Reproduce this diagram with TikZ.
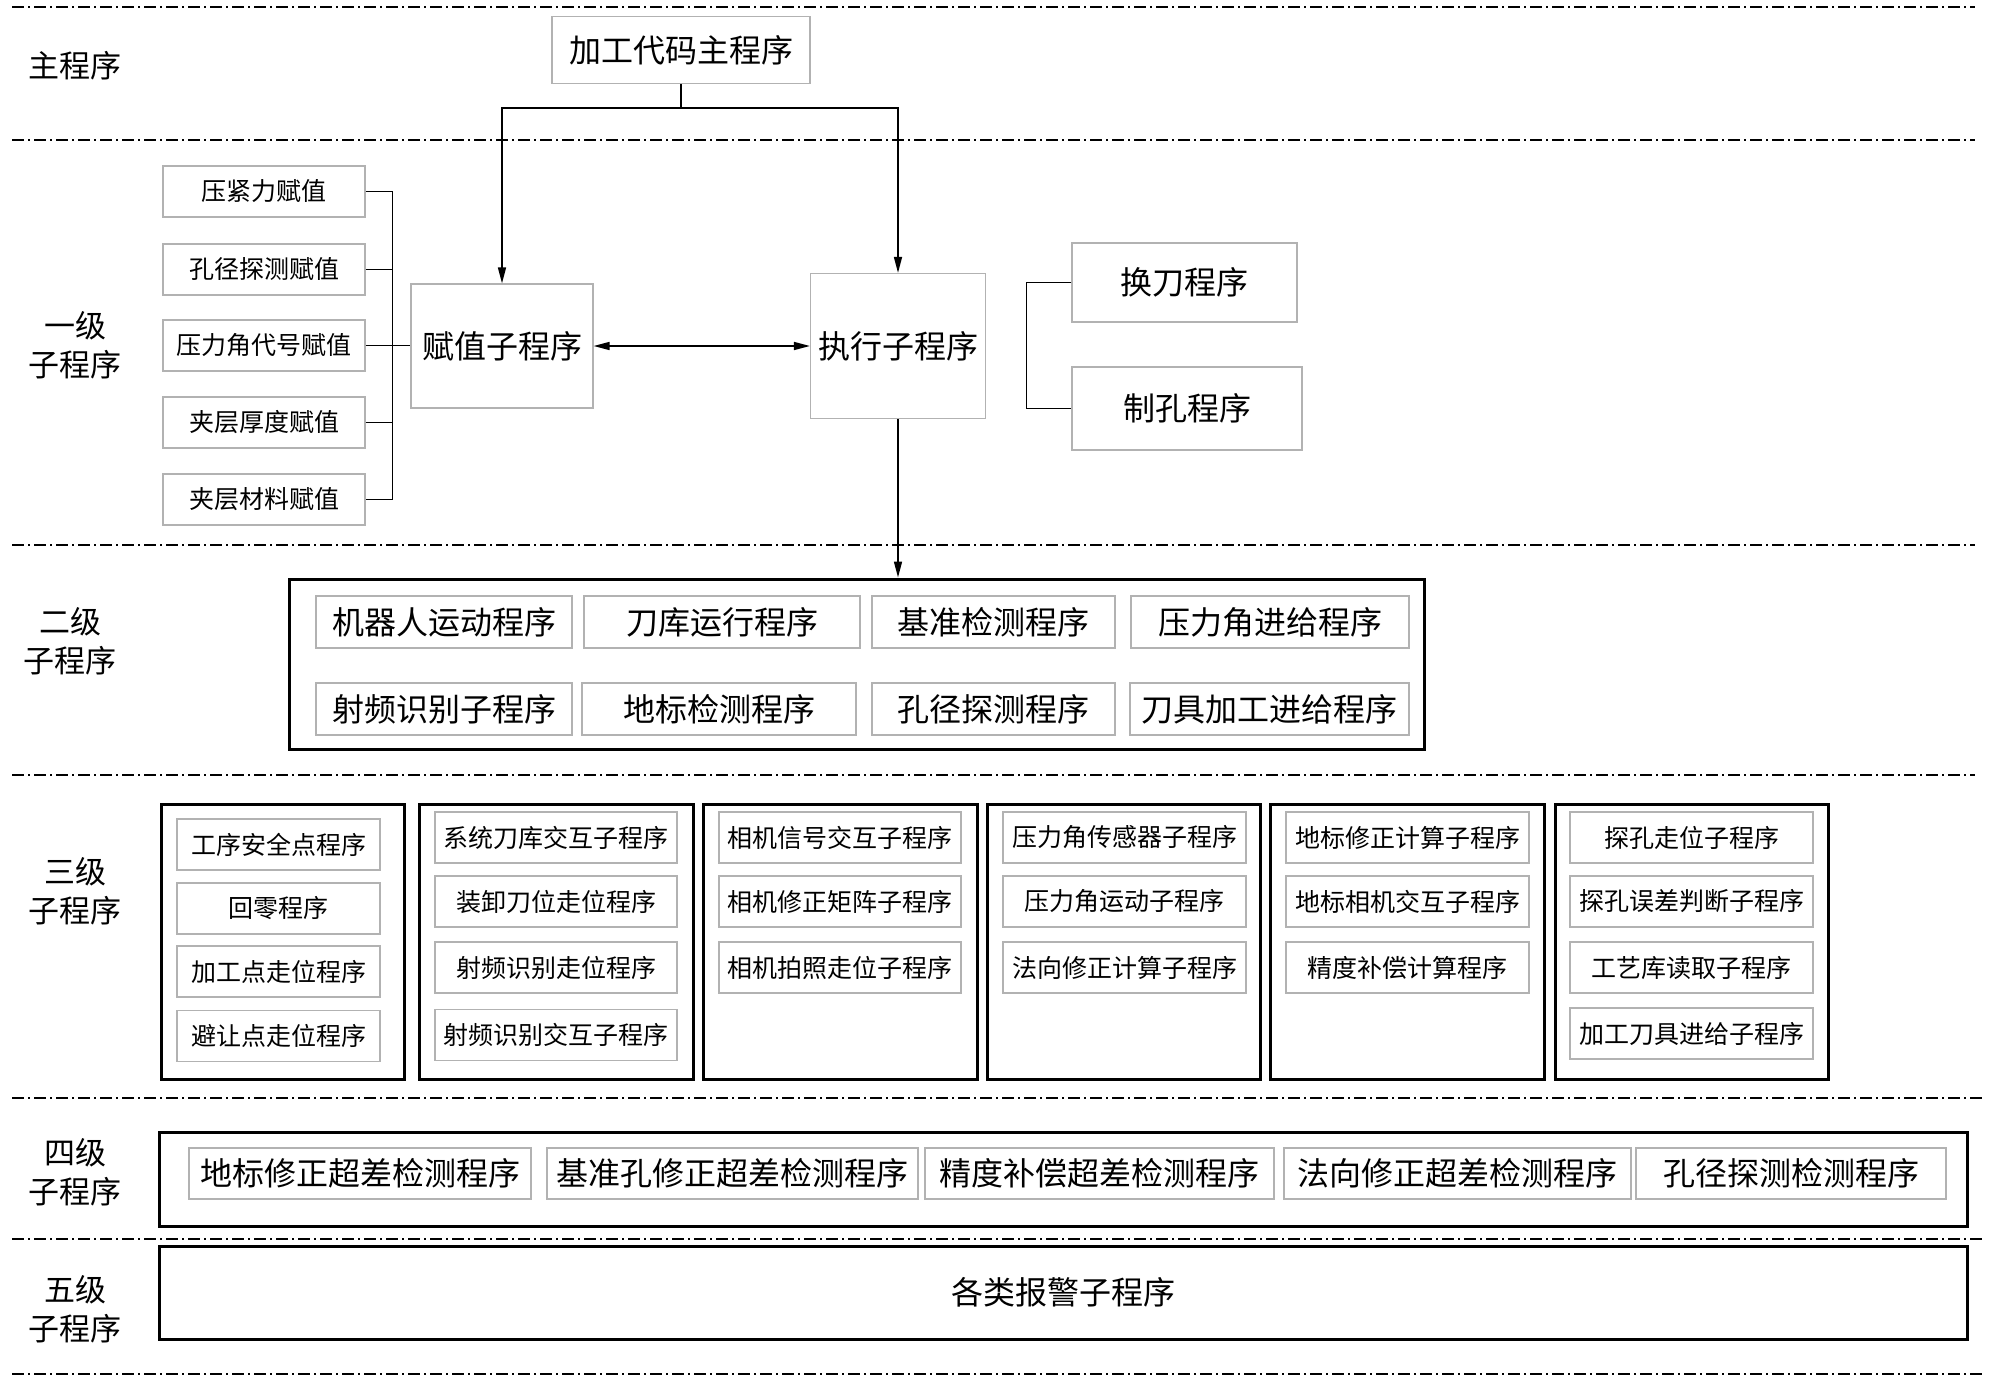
\documentclass[tikz,border=0pt]{standalone}
\usepackage{fontspec}
\setmainfont{Noto Sans CJK SC}
\usetikzlibrary{arrows.meta}
\begin{document}
\begin{tikzpicture}
  [x=1pt, y=-1pt,
  lbl/.style = {align=center, font=\fontsize{31}{39}\selectfont},
  box/.style = {draw=gray!60, line width=1.2pt, inner sep=0pt,
                font=\fontsize{32}{38}\selectfont},
  sbox/.style = {draw=gray!60, line width=1.2pt, inner sep=0pt,
                 minimum height=51pt, font=\fontsize{25}{30}\selectfont},
  bbox/.style = {box, minimum height=52pt},
  frame/.style = {draw, line width=3pt, inner sep=0pt},
  level/.style = {line width=1.2pt, dash pattern=on 12pt off 4pt on 2pt off 4pt},
  link/.style = {line width=1.6pt},
  arr/.style = {link, -{Triangle[length=16pt,width=8pt]}},
  arrs/.style = {link, {Triangle[length=16pt,width=8pt]}-{Triangle[length=16pt,width=8pt]}}]
  \useasboundingbox (0,0) rectangle (2000,1380);
  % Lineas de nivel
  \draw[level] (12,7) -- (1975,7);
  \draw[level] (12,140) -- (1975,140);
  \draw[level] (12,545) -- (1975,545);
  \draw[level] (12,775) -- (1975,775);
  \draw[level] (12,1098) -- (1985,1098);
  \draw[level] (12,1239) -- (1985,1239);
  \draw[level] (12,1374) -- (1985,1374);
  % Etiquetas de nivel
  \node[lbl] (l0) at (75,66) {主程序};
  \node[lbl] (l1) at (75,345) {一级\\子程序};
  \node[lbl] (l2) at (70,641) {二级\\子程序};
  \node[lbl] (l3) at (75,891) {三级\\子程序};
  \node[lbl] (l4) at (75,1172) {四级\\子程序};
  \node[lbl] (l5) at (75,1309) {五级\\子程序};
  % Programa principal
  \node[box, minimum width=258, minimum height=67] (main) at (681,50) {加工代码主程序};
  % Nivel uno
  \node[box, minimum width=182, minimum height=124] (assign) at (502,346) {赋值子程序};
  \node[box, minimum width=175, minimum height=145] (exec) at (898,346) {执行子程序};
  \node[sbox, minimum width=202] (a1) at (264,191.5) {压紧力赋值};
  \node[sbox, minimum width=202] (a2) at (264,269.5) {孔径探测赋值};
  \node[sbox, minimum width=202] (a3) at (264,345.5) {压力角代号赋值};
  \node[sbox, minimum width=202] (a4) at (264,422.5) {夹层厚度赋值};
  \node[sbox, minimum width=202] (a5) at (264,499.5) {夹层材料赋值};
  \node[box, minimum width=225, minimum height=79] (tool) at (1184.5,282.5) {换刀程序};
  \node[box, minimum width=230, minimum height=83] (drill) at (1187,408.5) {制孔程序};
  % Conexiones nivel uno
  \coordinate (split) at (681,108);
  \draw[link] (main.south) -- (split);
  \draw[arr] (split) -| (assign.north);
  \draw[arr] (split) -| (exec.north);
  \draw[arrs] (assign.east |- assign) -- (exec.west |- assign);
  \draw[link] (a1.east) -- ++(27,0) |- (a5.east);
  \draw[link] (a2.east) -- ++(27,0);
  \draw[link] (a3.east) -- (assign.west |- a3);
  \draw[link] (a4.east) -- ++(27,0);
  \draw[link] (tool.west) -- ++(-45,0) |- (drill.west);
  % Nivel dos
  \node[frame, minimum width=1135, minimum height=170] (f2) at (856.5,664) {};
  \draw[arr] (exec.south) -- (exec.south |- f2.north);
  \node[bbox, minimum width=256] (b1) at (444,622) {机器人运动程序};
  \node[bbox, minimum width=276] (b2) at (722,622) {刀库运行程序};
  \node[bbox, minimum width=243] (b3) at (993.5,622) {基准检测程序};
  \node[bbox, minimum width=278] (b4) at (1270,622) {压力角进给程序};
  \node[bbox, minimum width=256] (b5) at (444,709) {射频识别子程序};
  \node[bbox, minimum width=274] (b6) at (719,709) {地标检测程序};
  \node[bbox, minimum width=243] (b7) at (993.5,709) {孔径探测程序};
  \node[bbox, minimum width=279] (b8) at (1269.5,709) {刀具加工进给程序};
  % Nivel tres
  \node[frame, minimum width=243, minimum height=275] (g1) at (282.5,941.5) {};
  \node[frame, minimum width=274, minimum height=275] (g2) at (556,941.5) {};
  \node[frame, minimum width=274, minimum height=275] (g3) at (840,941.5) {};
  \node[frame, minimum width=273, minimum height=275] (g4) at (1123.5,941.5) {};
  \node[frame, minimum width=274, minimum height=275] (g5) at (1407,941.5) {};
  \node[frame, minimum width=273, minimum height=275] (g6) at (1691.5,941.5) {};
  \node[sbox, minimum width=203] (g1a) at (278.5,844.5) {工序安全点程序};
  \node[sbox, minimum width=203] (g1b) at (278.5,908.5) {回零程序};
  \node[sbox, minimum width=203] (g1c) at (278.5,971.5) {加工点走位程序};
  \node[sbox, minimum width=203] (g1d) at (278.5,1036) {避让点走位程序};
  \node[sbox, minimum width=242] (g2a) at (556,837.5) {系统刀库交互子程序};
  \node[sbox, minimum width=242] (g2b) at (556,901.5) {装卸刀位走位程序};
  \node[sbox, minimum width=242] (g2c) at (556,967.5) {射频识别走位程序};
  \node[sbox, minimum width=242] (g2d) at (556,1035) {射频识别交互子程序};
  \node[sbox, minimum width=242] (g3a) at (840,837.5) {相机信号交互子程序};
  \node[sbox, minimum width=242] (g3b) at (840,901.5) {相机修正矩阵子程序};
  \node[sbox, minimum width=242] (g3c) at (840,967.5) {相机拍照走位子程序};
  \node[sbox, minimum width=243] (g4a) at (1124.5,837.5) {压力角传感器子程序};
  \node[sbox, minimum width=243] (g4b) at (1124.5,901.5) {压力角运动子程序};
  \node[sbox, minimum width=243] (g4c) at (1124.5,967.5) {法向修正计算子程序};
  \node[sbox, minimum width=243] (g5a) at (1407.5,837.5) {地标修正计算子程序};
  \node[sbox, minimum width=243] (g5b) at (1407.5,901.5) {地标相机交互子程序};
  \node[sbox, minimum width=243] (g5c) at (1407.5,967.5) {精度补偿计算程序};
  \node[sbox, minimum width=243] (g6a) at (1691.5,837.5) {探孔走位子程序};
  \node[sbox, minimum width=243] (g6b) at (1691.5,901.5) {探孔误差判断子程序};
  \node[sbox, minimum width=243] (g6c) at (1691.5,967.5) {工艺库读取子程序};
  \node[sbox, minimum width=243] (g6d) at (1691.5,1033.5) {加工刀具进给子程序};
  % Nivel cuatro
  \node[frame, minimum width=1808, minimum height=94] (f4) at (1063,1179) {};
  \node[bbox, minimum height=51, minimum width=342] (d1) at (360,1173.5) {地标修正超差检测程序};
  \node[bbox, minimum height=51, minimum width=371] (d2) at (732.5,1173.5) {基准孔修正超差检测程序};
  \node[bbox, minimum height=51, minimum width=349] (d3) at (1099.5,1173.5) {精度补偿超差检测程序};
  \node[bbox, minimum height=51, minimum width=347] (d4) at (1457.5,1173.5) {法向修正超差检测程序};
  \node[bbox, minimum height=51, minimum width=310] (d5) at (1791,1173.5) {孔径探测检测程序};
  % Nivel cinco
  \node[frame, minimum width=1808, minimum height=93, font=\fontsize{32}{38}\selectfont] (f5) at (1063,1292.5) {各类报警子程序};
\end{tikzpicture}
\end{document}
